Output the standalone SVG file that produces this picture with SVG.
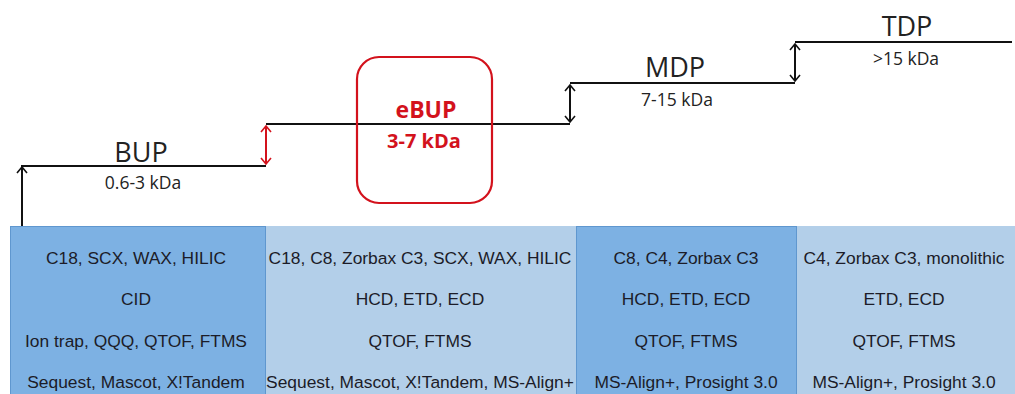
<svg xmlns="http://www.w3.org/2000/svg" width="1015" height="394" viewBox="0 0 1015 394">
<style>
.dark{fill:#7db1e3;stroke:#5f97cf;stroke-width:1}
.light{fill:#b3cfe9;stroke:none}
.cell{font-family:"Liberation Sans",Arial,sans-serif;font-size:17.4px;fill:#1c1c28;text-anchor:middle}
.lvl{stroke:#111;stroke-width:2;fill:none}
.lab{font-family:"Open Sans","Noto Sans",sans-serif;fill:#222;text-anchor:middle}
.big{font-size:27px}
.small{font-size:17.5px}
.red{fill:#d3121c;font-weight:bold;font-family:"Open Sans","Noto Sans",sans-serif;text-anchor:middle}
</style>
<defs>
<marker id="hk" viewBox="-8 -8 16 16" refX="0" refY="0" markerWidth="16" markerHeight="16" markerUnits="userSpaceOnUse" orient="auto-start-reverse">
<path d="M-6,-5 L0,0 L-6,5" fill="none" stroke="#111" stroke-width="1.6"/>
</marker>
<marker id="hr" viewBox="-8 -8 16 16" refX="0" refY="0" markerWidth="16" markerHeight="16" markerUnits="userSpaceOnUse" orient="auto-start-reverse">
<path d="M-6,-5 L0,0 L-6,5" fill="none" stroke="#d3121c" stroke-width="1.6"/>
</marker>
</defs>
<rect width="1015" height="394" fill="#fff"/>
<g id="col-light">
<rect class="light" x="265" y="226" width="311" height="170"/>
<rect class="light" x="797" y="226" width="220" height="170"/>
</g>
<g id="col-bup">
<rect class="dark" x="10.5" y="226.5" width="255" height="170"/>
<text class="cell" x="136" y="264">C18, SCX, WAX, HILIC</text>
<text class="cell" x="136" y="305">CID</text>
<text class="cell" x="136" y="347">Ion trap, QQQ, QTOF, FTMS</text>
<text class="cell" x="136" y="388">Sequest, Mascot, X!Tandem</text>
</g>
<g id="col-ebup">
<text class="cell" x="420" y="264">C18, C8, Zorbax C3, SCX, WAX, HILIC</text>
<text class="cell" x="420" y="305">HCD, ETD, ECD</text>
<text class="cell" x="420" y="347">QTOF, FTMS</text>
<text class="cell" x="420" y="388">Sequest, Mascot, X!Tandem, MS-Align+</text>
</g>
<g id="col-mdp">
<rect class="dark" x="576.5" y="226.5" width="220" height="170"/>
<text class="cell" x="686" y="264">C8, C4, Zorbax C3</text>
<text class="cell" x="686" y="305">HCD, ETD, ECD</text>
<text class="cell" x="686" y="347">QTOF, FTMS</text>
<text class="cell" x="686" y="388">MS-Align+, Prosight 3.0</text>
</g>
<g id="col-tdp">
<text class="cell" x="904" y="264">C4, Zorbax C3, monolithic</text>
<text class="cell" x="904" y="305">ETD, ECD</text>
<text class="cell" x="904" y="347">QTOF, FTMS</text>
<text class="cell" x="904" y="388">MS-Align+, Prosight 3.0</text>
</g>
<g id="connectors">
<path class="lvl" d="M21,166 H266 M266,124 H570 M570,83 H795 M795,42 H1012"/>
<line class="lvl" x1="22" y1="226" x2="22" y2="167" marker-end="url(#hk)"/>
<line x1="266" y1="126" x2="266" y2="164" stroke="#d3121c" stroke-width="2" marker-start="url(#hr)" marker-end="url(#hr)"/>
<line class="lvl" x1="570" y1="85" x2="570" y2="122" marker-start="url(#hk)" marker-end="url(#hk)"/>
<line class="lvl" x1="795" y1="44" x2="795" y2="81" marker-start="url(#hk)" marker-end="url(#hk)"/>
</g>
<g id="bup">
<text class="lab big" x="141" y="162">BUP</text>
<text class="lab small" x="143" y="189">0.6-3 kDa</text>
</g>
<g id="ebup">
<rect x="357" y="57" width="135" height="146" rx="22" fill="none" stroke="#d3121c" stroke-width="2.2"/>
<text class="red" x="426" y="118" font-size="23">eBUP</text>
<text class="red" x="424" y="148" font-size="20">3-7 kDa</text>
</g>
<g id="mdp">
<text class="lab big" x="675" y="77">MDP</text>
<text class="lab small" x="677" y="106">7-15 kDa</text>
</g>
<g id="tdp">
<text class="lab big" x="907" y="36">TDP</text>
<text class="lab small" x="906" y="65">&gt;15 kDa</text>
</g>
</svg>
